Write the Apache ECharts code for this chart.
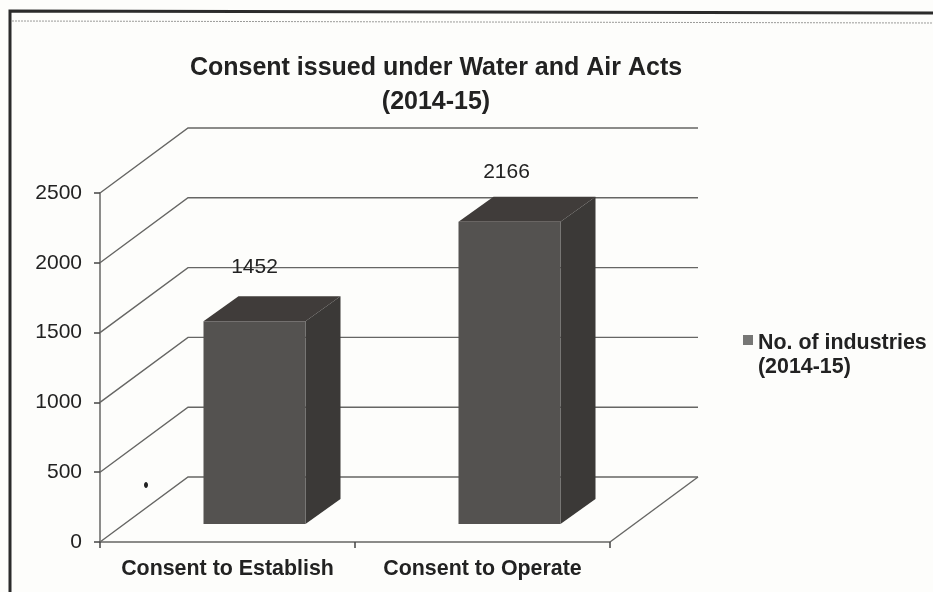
<!DOCTYPE html>
<html>
<head>
<meta charset="utf-8">
<style>html,body{margin:0;padding:0;background:#fdfdfb}#c{width:933px;height:592px}</style>
<script src="https://cdn.jsdelivr.net/npm/echarts@6/dist/echarts.min.js"></script>
</head>
<body>
<div id="c"></div>
<script>
const titleLines = ['Consent issued under Water and Air Acts', '(2014-15)'];
const categories = ['Consent to Establish', 'Consent to Operate'];
const industries = [1452, 2166];
const seriesName = 'No. of industries\n(2014-15)';
const yTicks = [0, 500, 1000, 1500, 2000, 2500];

const FONT = '"Liberation Sans", Arial, sans-serif';
const WALL = { dx: 88, dy: -65, rightEnd: 698 };
const BAR = { shift: 27, halfW: 51, drop: 18, dx: 35, dy: -25 };
const LABEL_LIFT = [54, 49];
const LABEL_SHIFT = [0, -3];
const LINE = '#666664';

const chart = echarts.init(document.getElementById('c'), null, { renderer: 'canvas' });

function renderWall(params, api) {
  const cs = params.coordSys;
  const left = cs.x;
  const y = api.coord([0, api.value(0)])[1];
  const style = { stroke: LINE, lineWidth: 1.4, fill: null };
  const bx = left + WALL.dx, by = y + WALL.dy;
  const children = [
    { type: 'polyline', shape: { points: [[left, y], [bx, by], [WALL.rightEnd, by]] }, style }
  ];
  if (api.value(0) === 0) {
    children.push({ type: 'line', shape: { x1: left + cs.width, y1: y, x2: WALL.rightEnd, y2: by }, style });
  }
  return { type: 'group', children };
}

function renderBar(params, api) {
  const i = api.value(0);
  const v = api.value(1);
  const cx = api.coord([i, 0])[0] + BAR.shift;
  const bottom = api.coord([i, 0])[1] - BAR.drop;
  const top = api.coord([i, v])[1] - BAR.drop;
  const l = cx - BAR.halfW, r = cx + BAR.halfW;
  const d = BAR.dx, e = BAR.dy;
  return {
    type: 'group',
    children: [
      { type: 'polygon', shape: { points: [[l, top], [r, top], [r + d, top + e], [l + d, top + e]] }, style: { fill: '#403c3a' } },
      { type: 'polygon', shape: { points: [[r, top], [r + d, top + e], [r + d, bottom + e], [r, bottom]] }, style: { fill: '#3b3937' } },
      { type: 'rect', shape: { x: l, y: top, width: r - l, height: bottom - top }, style: { fill: '#545250' } },
      { type: 'text', x: cx + LABEL_SHIFT[i], y: top - LABEL_LIFT[i], style: { text: String(v), fill: '#222', font: '21px ' + FONT, align: 'center', verticalAlign: 'middle' } }
    ]
  };
}

chart.setOption({
  animation: false,
  backgroundColor: '#fdfdfb',
  title: {
    text: titleLines.join('\n'),
    left: 431, top: 46, textAlign: 'center',
    textStyle: { fontFamily: FONT, fontWeight: 'bold', fontSize: 25, lineHeight: 34, color: '#222' }
  },
  legend: {
    data: [seriesName],
    left: 743, top: 331, orient: 'vertical', padding: 0,
    itemWidth: 10, itemHeight: 48, itemGap: 0,
    icon: 'path://M0 4H10V14H0Z M0 0L0 0Z M0 48L0 48Z',
    itemStyle: { color: '#777775' },
    textStyle: { fontFamily: FONT, fontWeight: 'bold', fontSize: 21.4, lineHeight: 24, color: '#222' }
  },
  grid: { left: 100, top: 193, width: 510, height: 349 },
  xAxis: {
    type: 'category', data: categories, boundaryGap: true,
    axisLine: { lineStyle: { color: LINE, width: 1.5 } },
    axisTick: { show: true, interval: 0, length: 6, lineStyle: { color: '#444', width: 1.5 } },
    axisLabel: { interval: 0, hideOverlap: false, margin: 17, fontFamily: FONT, fontWeight: 'bold', fontSize: 21.4, color: '#222' }
  },
  yAxis: {
    type: 'value', min: 0, max: 2500, interval: 500,
    splitLine: { show: false },
    axisLine: { show: true, lineStyle: { color: LINE, width: 1.5 } },
    axisTick: { show: true, length: 6, lineStyle: { color: '#444', width: 1.5 } },
    axisLabel: { margin: 18, fontFamily: FONT, fontSize: 21, color: '#222', formatter: v => String(v) }
  },
  series: [
    { type: 'custom', name: 'walls', z: 1, silent: true, clip: false, renderItem: renderWall,
      data: yTicks.map(t => [t]), encode: { y: 0 } },
    { type: 'custom', name: seriesName, z: 2, clip: false, renderItem: renderBar,
      itemStyle: { color: '#777775' },
      data: industries.map((v, i) => [i, v]), encode: { x: 0, y: 1 } }
  ],
  graphic: [
    { type: 'polyline', silent: true, shape: { points: [[10, 592], [10, 11], [933, 13]] }, style: { stroke: '#2b2b2b', lineWidth: 3, fill: null } },
    { type: 'line', silent: true, shape: { x1: 12, y1: 21, x2: 933, y2: 23 }, style: { stroke: '#9a9a98', lineWidth: 1, lineDash: [2, 1] } },
    { type: 'ellipse', silent: true, shape: { cx: 146, cy: 485, rx: 2, ry: 3 }, style: { fill: '#222' } }
  ]
});
</script>
</body>
</html>
